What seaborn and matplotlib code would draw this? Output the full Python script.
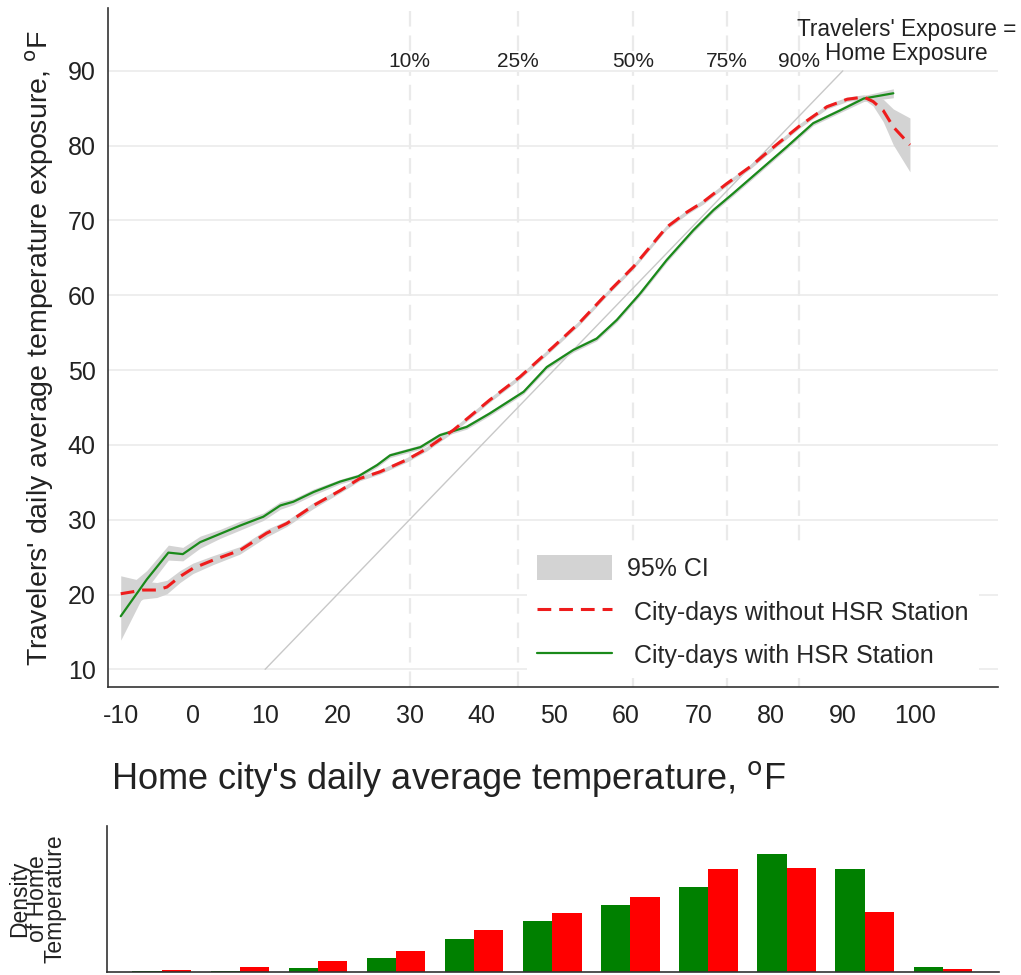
import numpy as np
import pandas as pd
import seaborn as sns
import matplotlib.pyplot as plt
from matplotlib.patches import Patch
from matplotlib.lines import Line2D

# ---- data ----
# city-days WITH HSR station (green)
hsr_x = [-10, -6.4, -3.4, -1.4, 1.0, 3.75, 6.5, 9.75, 12.1, 13.9, 16.7, 20.4, 22.9, 25.5, 27.3,
         31.5, 34.2, 37.9, 41.1, 45.8, 49.0, 52.7, 55.9, 58.7, 61.9, 65.6, 69.3, 72.1, 74.8,
         78.5, 82.2, 85.9, 89.6, 92.9, 97.0]
hsr_y = [17.1, 22.0, 25.6, 25.4, 27.0, 28.1, 29.2, 30.4, 31.9, 32.4, 33.7, 35.1, 35.8, 37.3, 38.6,
         39.7, 41.3, 42.4, 44.2, 47.1, 50.4, 52.7, 54.2, 56.7, 60.2, 64.7, 68.7, 71.4, 73.6,
         76.7, 79.8, 83.0, 84.7, 86.3, 87.0]
hsr_ci = [3.2, 1.2, 1.0, 0.9, 0.8, 0.6, 0.6, 0.5, 0.5, 0.4, 0.4, 0.3, 0.3, 0.3, 0.3,
          0.3, 0.3, 0.3, 0.3, 0.3, 0.3, 0.3, 0.3, 0.3, 0.3, 0.3, 0.3, 0.3, 0.3,
          0.3, 0.3, 0.3, 0.3, 0.4, 0.6]

# city-days WITHOUT HSR station (red)
nohsr_x = [-10, -6.9, -5.0, -3.6, -1.8, 0.0, 2.8, 6.5, 10.2, 13.0, 16.7, 20.4, 23.1, 25.9, 29.6,
           32.4, 36.1, 41.1, 45.3, 49.9, 53.6, 57.3, 61.0, 65.6, 68.4, 70.7, 73.9, 77.2, 80.4,
           84.1, 87.8, 90.6, 92.9, 94.2, 95.6, 97.0, 99.3]
nohsr_y = [20.1, 20.6, 20.6, 21.0, 22.4, 23.5, 24.6, 25.9, 28.2, 29.5, 31.9, 33.9, 35.5, 36.4, 38.0,
           39.5, 42.0, 46.0, 49.1, 53.1, 56.4, 60.2, 63.8, 69.1, 71.1, 72.5, 74.9, 77.2, 79.8,
           82.7, 85.2, 86.2, 86.5, 85.9, 84.7, 82.5, 80.1]
nohsr_ci = [2.4, 1.2, 1.0, 0.9, 0.8, 0.7, 0.6, 0.5, 0.5, 0.4, 0.4, 0.3, 0.3, 0.3, 0.3,
            0.3, 0.3, 0.3, 0.3, 0.3, 0.3, 0.3, 0.3, 0.3, 0.3, 0.3, 0.3, 0.3, 0.3,
            0.3, 0.3, 0.3, 0.3, 0.6, 1.5, 2.4, 3.6]

# percentiles of home temperature
pct_x = [30, 45, 61, 74, 84]
pct_labels = ["10%", "25%", "50%", "75%", "90%"]

# density of home temperature (relative heights)
bins = list(range(11))
dens_hsr = [0.2, 1.0, 3.4, 13.4, 33.0, 50.7, 66.4, 85.0, 118.0, 102.4, 5.0]
dens_nohsr = [1.3, 4.7, 10.4, 20.4, 41.4, 58.4, 74.7, 102.7, 104.0, 59.4, 2.4]

sns.set_style("white")
plt.rcParams['font.family'] = ['Liberation Sans', 'DejaVu Sans']
plt.rcParams['axes.unicode_minus'] = False

fig = plt.figure(figsize=(10.21, 9.75), dpi=100)
ax = fig.add_axes([0.1058, 0.2951, 0.8717, 0.6967])
axh = fig.add_axes([0.1048, 0.0034, 0.8737, 0.1494])

# ---- main panel ----
for yv in range(10, 91, 10):
    ax.axhline(yv, color='#ebebeb', lw=1.2, zorder=0)
# dashed percentile lines, with a gap where the label sits
ax.vlines(pct_x, 7.6, 89.9, color='#eaeaea', lw=1.6, linestyles=[(0, (7, 4))], zorder=0)
ax.vlines(pct_x, 92.7, 98.4, color='#eaeaea', lw=1.6, linestyles=[(0, (7, 4))], zorder=0)

ax.plot([10, 90], [10, 90], color='#c8c8c8', lw=1.0, zorder=1)

hsr_lo = np.array(hsr_y) - np.array(hsr_ci)
hsr_hi = np.array(hsr_y) + np.array(hsr_ci)
nohsr_lo = np.array(nohsr_y) - np.array(nohsr_ci)
nohsr_hi = np.array(nohsr_y) + np.array(nohsr_ci)
ax.fill_between(hsr_x, hsr_lo, hsr_hi, color='#d3d3d3', lw=0, zorder=2)
ax.fill_between(nohsr_x, nohsr_lo, nohsr_hi, color='#d3d3d3', lw=0, zorder=2)

sns.lineplot(x=hsr_x, y=hsr_y, ax=ax, color='#1a8a1a', lw=1.6, zorder=3)
sns.lineplot(x=nohsr_x, y=nohsr_y, ax=ax, color='#ee1c1c', lw=2.2,
             linestyle=(0, (4.5, 2.6)), zorder=4)

for xv, lab in zip(pct_x, pct_labels):
    ax.text(xv, 91.3, lab, ha='center', va='center', fontsize=15, color='#222222', zorder=5)
# 45-degree line label, two lines
ax.text(98.8, 95.5, "Travelers' Exposure =", ha='center', va='center',
        fontsize=16.3, color='#222222', clip_on=False, zorder=5)
ax.text(98.8, 92.3, "Home Exposure", ha='center', va='center',
        fontsize=16.3, color='#222222', clip_on=False, zorder=5)

ax.set_xlim(-11.76, 111.5)
ax.set_ylim(7.6, 98.4)
ax.set_xticks(range(-10, 101, 10))
ax.set_yticks(range(10, 91, 10))
ax.tick_params(axis='x', length=8, width=1.2, pad=4, labelsize=18, colors='#222222')
ax.tick_params(axis='y', length=5, width=1.2, pad=4, labelsize=18, colors='#222222')
for s in ['top', 'right']:
    ax.spines[s].set_visible(False)
for s in ['left', 'bottom']:
    ax.spines[s].set_color('#333333')
    ax.spines[s].set_linewidth(1.2)

ax.set_xlabel(r"Home city's daily average temperature, $^{\mathrm{o}}$F", fontsize=26, color='#222222')
ax.set_ylabel(r"Travelers' daily average temperature exposure, $^{\mathrm{o}}$F", fontsize=20.5, color='#222222')
ax.xaxis.set_label_coords(0.383, -0.105)
ax.yaxis.set_label_coords(-0.058, 0.5)

handles = [Patch(facecolor='#d3d3d3', edgecolor='none'),
           Line2D([], [], color='#ee1c1c', lw=2.2, linestyle=(0, (4.5, 2.6))),
           Line2D([], [], color='#1a8a1a', lw=1.6)]
labels = ["95% CI", " City-days without HSR Station", " City-days with HSR Station"]
leg = ax.legend(handles, labels, loc='lower left', bbox_to_anchor=(0.471, 0.013),
                fontsize=18, frameon=True, facecolor='white', edgecolor='none', framealpha=1,
                handlelength=3.0, handleheight=1.15, handletextpad=0.6, labelspacing=0.72,
                borderpad=0.4, borderaxespad=0)
leg.set_zorder(6)

# ---- density panel ----
dens = pd.DataFrame({
    'bin': bins * 2,
    'density': dens_hsr + dens_nohsr,
    'group': ['with'] * len(bins) + ['without'] * len(bins),
})
sns.barplot(data=dens, x='bin', y='density', hue='group', hue_order=['with', 'without'],
            palette={'with': '#008000', 'without': '#ff0000'}, width=0.75,
            errorbar=None, saturation=1, legend=False, linewidth=0, ax=axh)
axh.set_xlim(-0.70, 10.72)
axh.set_ylim(0, 145.7)
axh.set_xticks([])
axh.set_yticks([])
axh.set_xlabel("")
axh.set_ylabel("Density\nof Home\nTemperature", fontsize=16.5, color='#222222', linespacing=0.72)
axh.yaxis.set_label_coords(-0.045, 0.5)
for s in ['top', 'right']:
    axh.spines[s].set_visible(False)
for s in ['left', 'bottom']:
    axh.spines[s].set_color('#333333')
    axh.spines[s].set_linewidth(1.2)

fig.savefig("out.png", dpi=100)
